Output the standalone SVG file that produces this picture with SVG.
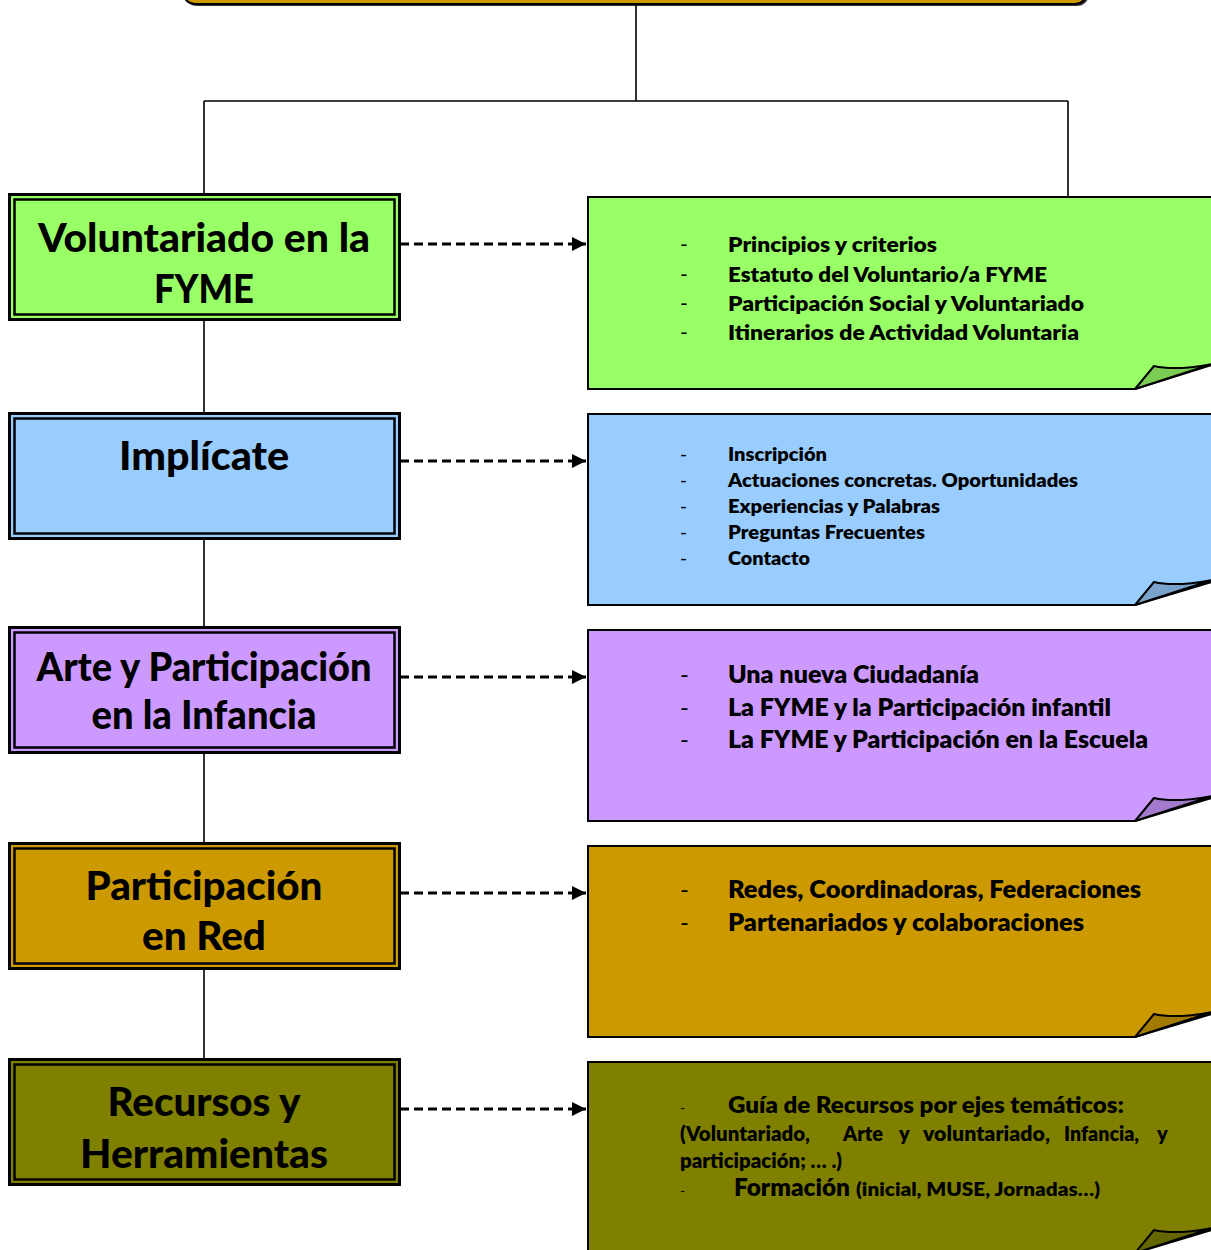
<svg xmlns="http://www.w3.org/2000/svg" width="1211" height="1250" viewBox="0 0 1211 1250">
<defs>
<style>
.t{font-family:Lato,"Open Sans","Liberation Sans",sans-serif;font-weight:800;fill:#000}
.nt{font-size:40px;text-anchor:middle;font-weight:900}
.outer{stroke:#000;stroke-width:3}
.inner{fill:none;stroke:#000;stroke-width:2.5}
.note{stroke:#000;stroke-width:2}
.fold{stroke:#000;stroke-width:2;stroke-linejoin:round}
.ln{stroke:#000;stroke-width:1.6;fill:none}
.dash{stroke:#000;stroke-width:3;stroke-dasharray:9 5;fill:none}
.hy{font-weight:400}
</style>
<marker id="ah" viewBox="0 0 14 14" refX="14" refY="7" markerWidth="14" markerHeight="14" markerUnits="userSpaceOnUse" orient="auto">
<path d="M0,0 L14,7 L0,14 Z" fill="#000"/>
</marker>
</defs>
<rect width="1211" height="1250" fill="#fff"/>

<g id="top">
<rect x="185" y="-40" width="904" height="46" rx="12" fill="#000" opacity="0.8"/>
<rect x="183" y="-40" width="904" height="44" rx="12" fill="#CC9900" stroke="#000" stroke-width="2"/>
</g>

<g id="connectors">
<path class="ln" d="M636,5 V101 M204,101 H1068 M204,101 V194 M1068,101 V196"/>
<path class="ln" d="M204,320 V413 M204,538 V628 M204,752 V843 M204,968 V1058"/>
<path class="dash" d="M400,244 H586" marker-end="url(#ah)"/>
<path class="dash" d="M400,461 H586" marker-end="url(#ah)"/>
<path class="dash" d="M400,677 H586" marker-end="url(#ah)"/>
<path class="dash" d="M400,893 H586" marker-end="url(#ah)"/>
<path class="dash" d="M400,1109 H586" marker-end="url(#ah)"/>
</g>

<g id="node1">
<rect class="outer" x="9.5" y="194.5" width="390" height="125" fill="#99FF66"/>
<rect class="inner" x="14.5" y="199.5" width="380" height="115"/>
<text class="t nt" x="204" y="252" textLength="332" lengthAdjust="spacingAndGlyphs">Voluntariado en la</text>
<text class="t nt" x="204" y="303" textLength="100" lengthAdjust="spacingAndGlyphs">FYME</text>
</g>
<g id="node2">
<rect class="outer" x="9.5" y="413.5" width="390" height="125" fill="#99CCFF"/>
<rect class="inner" x="14.5" y="418.5" width="380" height="115"/>
<text class="t nt" x="204" y="470" textLength="170" lengthAdjust="spacingAndGlyphs">Implícate</text>
</g>
<g id="node3">
<rect class="outer" x="9.5" y="627.5" width="390" height="125" fill="#CC99FF"/>
<rect class="inner" x="14.5" y="632.5" width="380" height="115"/>
<text class="t nt" x="204" y="681" textLength="335" lengthAdjust="spacingAndGlyphs">Arte y Participación</text>
<text class="t nt" x="204" y="729" textLength="225" lengthAdjust="spacingAndGlyphs">en la Infancia</text>
</g>
<g id="node4">
<rect class="outer" x="9.5" y="843.5" width="390" height="125" fill="#CC9900"/>
<rect class="inner" x="14.5" y="848.5" width="380" height="115"/>
<text class="t nt" x="204" y="900" textLength="237" lengthAdjust="spacingAndGlyphs">Participación</text>
<text class="t nt" x="204" y="950" textLength="124" lengthAdjust="spacingAndGlyphs">en Red</text>
</g>
<g id="node5">
<rect class="outer" x="9.5" y="1059.5" width="390" height="125" fill="#808000"/>
<rect class="inner" x="14.5" y="1064.5" width="380" height="115"/>
<text class="t nt" x="204" y="1116" textLength="193" lengthAdjust="spacingAndGlyphs">Recursos y</text>
<text class="t nt" x="204" y="1168" textLength="248" lengthAdjust="spacingAndGlyphs">Herramientas</text>
</g>

<g id="note1">
<path class="note" fill="#99FF66" d="M588,197 H1215 V364 L1135,389 H588 Z"/>
<path class="fold" fill="#7ACC52" d="M1135,389 L1154,366 Q1175,371 1212,364 Z"/>
<g class="t" font-size="21">
<text class="hy" x="680" y="252">-</text><text x="728" y="252" textLength="209" lengthAdjust="spacingAndGlyphs">Principios y criterios</text>
<text class="hy" x="680" y="282">-</text><text x="728" y="282" textLength="319" lengthAdjust="spacingAndGlyphs">Estatuto del Voluntario/a FYME</text>
<text class="hy" x="680" y="311">-</text><text x="728" y="311" textLength="356" lengthAdjust="spacingAndGlyphs">Participación Social y Voluntariado</text>
<text class="hy" x="680" y="340">-</text><text x="728" y="340" textLength="351" lengthAdjust="spacingAndGlyphs">Itinerarios de Actividad Voluntaria</text>
</g>
</g>
<g id="note2">
<path class="note" fill="#99CCFF" d="M588,414 H1215 V581 L1135,605 H588 Z"/>
<path class="fold" fill="#7AA3CC" d="M1135,605 L1154,582 Q1175,587 1212,580 Z"/>
<g class="t" font-size="19">
<text class="hy" x="680" y="461">-</text><text x="728" y="461" textLength="99" lengthAdjust="spacingAndGlyphs">Inscripción</text>
<text class="hy" x="680" y="487">-</text><text x="728" y="487" textLength="350" lengthAdjust="spacingAndGlyphs">Actuaciones concretas. Oportunidades</text>
<text class="hy" x="680" y="513">-</text><text x="728" y="513" textLength="212" lengthAdjust="spacingAndGlyphs">Experiencias y Palabras</text>
<text class="hy" x="680" y="539">-</text><text x="728" y="539" textLength="197" lengthAdjust="spacingAndGlyphs">Preguntas Frecuentes</text>
<text class="hy" x="680" y="565">-</text><text x="728" y="565" textLength="82" lengthAdjust="spacingAndGlyphs">Contacto</text>
</g>
</g>
<g id="note3">
<path class="note" fill="#CC99FF" d="M588,630 H1215 V797 L1135,821 H588 Z"/>
<path class="fold" fill="#A37ACC" d="M1135,821 L1154,798 Q1175,803 1212,796 Z"/>
<g class="t" font-size="24">
<text class="hy" x="680" y="683">-</text><text x="728" y="683" textLength="251" lengthAdjust="spacingAndGlyphs">Una nueva Ciudadanía</text>
<text class="hy" x="680" y="716">-</text><text x="728" y="716" textLength="383" lengthAdjust="spacingAndGlyphs">La FYME y la Participación infantil</text>
<text class="hy" x="680" y="748">-</text><text x="728" y="748" textLength="420" lengthAdjust="spacingAndGlyphs">La FYME y Participación en la Escuela</text>
</g>
</g>
<g id="note4">
<path class="note" fill="#CC9900" d="M588,846 H1215 V1013 L1135,1037 H588 Z"/>
<path class="fold" fill="#A37A00" d="M1135,1037 L1154,1014 Q1175,1019 1212,1012 Z"/>
<g class="t" font-size="24">
<text class="hy" x="680" y="898">-</text><text x="728" y="898" textLength="413" lengthAdjust="spacingAndGlyphs">Redes, Coordinadoras, Federaciones</text>
<text class="hy" x="680" y="931">-</text><text x="728" y="931" textLength="356" lengthAdjust="spacingAndGlyphs">Partenariados y colaboraciones</text>
</g>
</g>
<g id="note5">
<path class="note" fill="#808000" d="M588,1062 H1215 V1229 L1135,1253 H588 Z"/>
<path class="fold" fill="#666600" d="M1135,1253 L1154,1230 Q1175,1235 1212,1228 Z"/>
<g class="t">
<text class="hy" x="680" y="1113" font-size="14">-</text><text x="728" y="1113" font-size="23" textLength="396" lengthAdjust="spacingAndGlyphs">Guía de Recursos por ejes temáticos:</text>
<text x="680" y="1141" font-size="20" textLength="130" lengthAdjust="spacingAndGlyphs">(Voluntariado,</text>
<text x="843" y="1141" font-size="20" textLength="40" lengthAdjust="spacingAndGlyphs">Arte</text>
<text x="899" y="1141" font-size="20">y</text>
<text x="923" y="1141" font-size="20" textLength="127" lengthAdjust="spacingAndGlyphs">voluntariado,</text>
<text x="1064" y="1141" font-size="20" textLength="75" lengthAdjust="spacingAndGlyphs">Infancia,</text>
<text x="1157" y="1141" font-size="20">y</text>
<text x="680" y="1168" font-size="20" textLength="162" lengthAdjust="spacingAndGlyphs">participación; … .)</text>
<text class="hy" x="680" y="1196" font-size="14">-</text>
<text x="734" y="1196" font-size="24" textLength="116" lengthAdjust="spacingAndGlyphs">Formación</text>
<text x="856" y="1196" font-size="18" textLength="244" lengthAdjust="spacingAndGlyphs">(inicial, MUSE, Jornadas…)</text>
</g>
</g>
</svg>
